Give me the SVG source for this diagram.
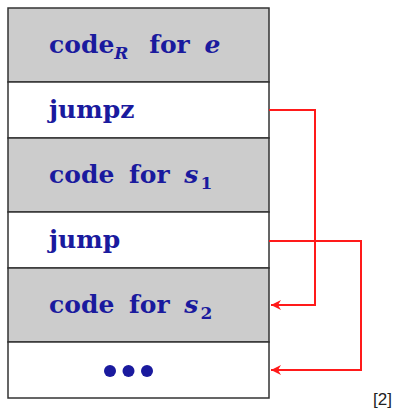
<svg xmlns="http://www.w3.org/2000/svg" width="396" height="411" viewBox="0 0 396 411">
  <style>
    .cell { stroke: #333; stroke-width: 1.5; }
    .gray { fill: #cccccc; }
    .white { fill: #ffffff; }
    .lbl { font-family: "DejaVu Serif", "Liberation Serif", serif; font-size: 25px; font-weight: bold; fill: #1a1a9e; word-spacing: 6px; }
    .it { font-style: italic; }
    .sub { font-size: 17px; }
    .link { fill: none; stroke: #ff1a1a; stroke-width: 2; }
    .ref { font-family: "Liberation Sans", Arial, sans-serif; font-size: 17px; fill: #222; }
  </style>
  <defs>
    <marker id="arrow" markerWidth="12" markerHeight="12" refX="11" refY="6" orient="auto" markerUnits="userSpaceOnUse">
      <path d="M11,6 L1,1 L4,6 L1,11 Z" fill="#ff1a1a"/>
    </marker>
  </defs>

  <g id="codeR-e">
    <rect class="cell gray" x="8" y="8" width="261" height="74"/>
    <text class="lbl" x="49" y="53">code<tspan class="it sub" dy="6">R</tspan><tspan dy="-6" dx="6"> for </tspan><tspan class="it">e</tspan></text>
  </g>
  <g id="jumpz">
    <rect class="cell white" x="8" y="82" width="261" height="56"/>
    <text class="lbl" x="49" y="118">jumpz</text>
  </g>
  <g id="code-s1">
    <rect class="cell gray" x="8" y="138" width="261" height="74"/>
    <text class="lbl" x="49" y="183">code for <tspan class="it">s</tspan><tspan class="sub" dy="6" dx="2">1</tspan></text>
  </g>
  <g id="jump">
    <rect class="cell white" x="8" y="212" width="261" height="56"/>
    <text class="lbl" x="49" y="248">jump</text>
  </g>
  <g id="code-s2">
    <rect class="cell gray" x="8" y="268" width="261" height="74"/>
    <text class="lbl" x="49" y="313">code for <tspan class="it">s</tspan><tspan class="sub" dy="6" dx="2">2</tspan></text>
  </g>
  <g id="rest">
    <rect class="cell white" x="8" y="342" width="261" height="56"/>
    <circle cx="110" cy="371" r="6" fill="#1a1a9e"/>
    <circle cx="128.5" cy="371" r="6" fill="#1a1a9e"/>
    <circle cx="147" cy="371" r="6" fill="#1a1a9e"/>
  </g>

  <g id="connectors">
    <polyline class="link" points="269,110 315,110 315,305 271,305" marker-end="url(#arrow)"/>
    <polyline class="link" points="269,241 361,241 361,370 271,370" marker-end="url(#arrow)"/>
  </g>

  <text class="ref" x="373" y="405">[2]</text>
</svg>
